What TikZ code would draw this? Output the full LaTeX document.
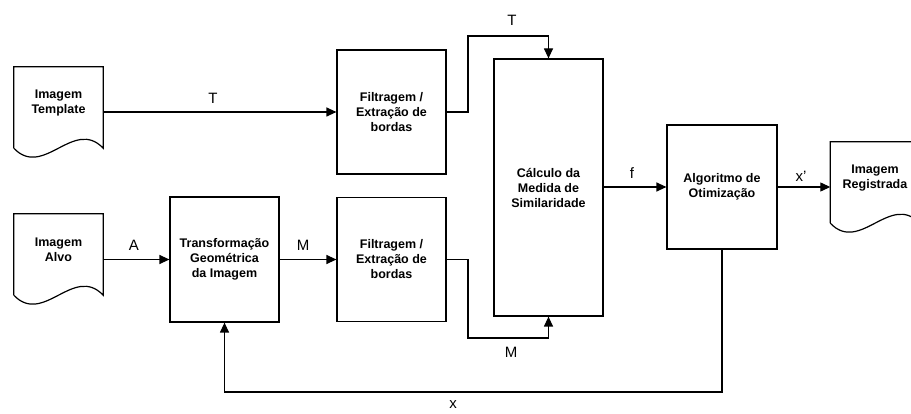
\documentclass[tikz,border=0pt]{standalone}
\usepackage{fontspec}
\setmainfont{Liberation Sans}
\usetikzlibrary{calc,arrows.meta}

% document outline with a wavy lower edge around a text node
\newcommand{\docoutline}[1]{%
  \draw[line width=1.2pt] ($(#1.south west)+(0,9)$) -- (#1.north west) -- (#1.north east) -- ($(#1.south east)+(0,9)$)
    .. controls ($(#1.south west)!0.67!(#1.south east)+(0,-22)$) and ($(#1.south west)!0.33!(#1.south east)+(0,40)$) .. ($(#1.south west)+(0,9)$);}

\begin{document}
\begin{tikzpicture}[x=1pt, y=-1pt,
    box/.style={draw, line width=1.2pt, minimum width=109pt, inner sep=0pt, align=center, font=\fontsize{12.5}{15}\selectfont\bfseries},
    docnode/.style={minimum width=89pt, minimum height=72pt, inner sep=0pt, align=center, font=\fontsize{12.5}{15}\selectfont\bfseries},
    flow/.style={line width=1.2pt, -{Triangle[length=10pt,width=9pt]}},
    sig/.style={font=\fontsize{15}{18}\selectfont, inner sep=0pt}]

    \useasboundingbox (0,0) rectangle (911,414);

    %Documents
    \node[docnode] (tpl) at (58.5,103) {Imagem\\Template};
    \node[docnode] (alvo) at (58.5,250) {Imagem\\Alvo};
    \node[docnode] (reg) at (875,178) {Imagem\\Registrada};
    \docoutline{tpl}
    \docoutline{alvo}
    \docoutline{reg}

    %Process blocks
    \node[box, minimum height=125pt] (geo) at (224.5,259.5) {Transformação\\Geométrica\\da Imagem};
    \node[box, minimum height=124pt] (flt1) at (391.5,112) {Filtragem /\\Extração de\\bordas};
    \node[box, minimum height=124pt] (flt2) at (391.5,259.5) {Filtragem /\\Extração de\\bordas};
    \node[box, minimum height=257pt] (sim) at (548.5,187.5) {Cálculo da\\Medida de\\Similaridade};
    \node[box, minimum width=110pt, minimum height=124pt] (opt) at (722,187) {Algoritmo de\\Otimização};

    %Bend points
    \coordinate (tbend) at (468,36);
    \coordinate (mbend) at (468,338);
    \coordinate (fbk) at (0,392);

    %Connectors
    \draw[flow] (tpl.east |- flt1) -- (flt1);
    \draw[flow] (alvo.east |- geo) -- (geo);
    \draw[flow] (geo) -- (flt2);
    \draw[flow] (flt1.east) -| (tbend) -| (sim.north);
    \draw[flow] (flt2.east) -| (mbend) -| (sim.south);
    \draw[flow] (sim.east |- opt) -- (opt);
    \draw[flow] (opt) -- (opt -| reg.west);
    \draw[flow] (opt.south) |- (fbk -| geo.south) -- (geo.south); %feedback

    %Signal labels
    \node[sig] (lblt) at (213,98) {T};
    \node[sig] (lbltop) at (512,20) {T};
    \node[sig] (lbla) at (134,245) {A};
    \node[sig] (lblm) at (303,245) {M};
    \node[sig] (lblmlow) at (511,352) {M};
    \node[sig] (lblf) at (632,173) {f};
    \node[sig] (lblxp) at (801,176) {x'};
    \node[sig] (lblx) at (453,405) {x};

\end{tikzpicture}
\end{document}
